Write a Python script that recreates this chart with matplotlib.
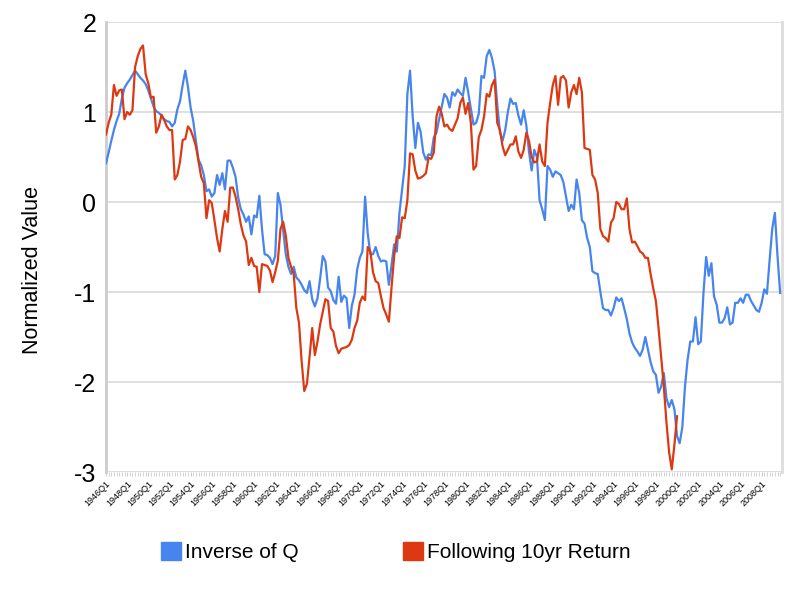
import matplotlib
matplotlib.use("Agg")
import matplotlib.pyplot as plt
from matplotlib.patches import Patch
import numpy as np

plt.rcParams['font.family'] = ['Liberation Sans', 'DejaVu Sans']
plt.rcParams['axes.unicode_minus'] = False

# quarterly categories 1946Q1 .. 2009Q4
quarters = [f"{y}Q{q}" for y in range(1946, 2010) for q in range(1, 5)]

inverse_q = [
    0.43, 0.55, 0.68, 0.80, 0.90, 0.98, 1.15, 1.27, 1.32, 1.36,
    1.41, 1.46, 1.42, 1.38, 1.35, 1.31, 1.24, 1.15, 1.06, 1.01,
    0.99, 0.96, 0.92, 0.90, 0.89, 0.84, 0.88, 1.03, 1.12, 1.30,
    1.46, 1.28, 1.05, 0.90, 0.68, 0.47, 0.41, 0.30, 0.12, 0.14,
    0.06, 0.10, 0.30, 0.19, 0.32, 0.14, 0.46, 0.46, 0.38, 0.28,
    0.05, -0.08, -0.14, -0.22, -0.16, -0.36, -0.15, -0.17, 0.07, -0.30,
    -0.58, -0.59, -0.62, -0.69, -0.60, 0.10, -0.03, -0.30, -0.58, -0.72,
    -0.80, -0.72, -0.84, -0.87, -0.92, -0.98, -1.01, -0.88, -1.08, -1.16,
    -1.07, -0.85, -0.60, -0.66, -0.95, -0.99, -1.09, -1.13, -0.83, -1.11,
    -1.04, -1.07, -1.40, -1.15, -1.03, -0.75, -0.62, -0.55, 0.06, -0.35,
    -0.58, -0.58, -0.50, -0.60, -0.66, -0.65, -0.66, -0.92, -0.70, -0.47,
    -0.55, -0.12, 0.14, 0.40, 1.20, 1.46, 0.95, 0.60, 0.88, 0.78,
    0.55, 0.47, 0.53, 0.52, 0.72, 0.77, 0.92, 1.06, 1.20, 1.16,
    1.05, 1.22, 1.18, 1.25, 1.21, 1.18, 1.38, 1.22, 1.04, 0.86,
    0.88, 0.98, 1.40, 1.38, 1.62, 1.69, 1.60, 1.45, 1.08, 0.78,
    0.68, 0.80, 1.00, 1.15, 1.09, 1.10, 0.96, 0.86, 1.02, 0.85,
    0.56, 0.35, 0.58, 0.50, 0.02, -0.08, -0.20, 0.40, 0.36, 0.28,
    0.34, 0.32, 0.30, 0.22, 0.06, -0.10, -0.03, -0.08, 0.25, 0.10,
    -0.20, -0.24, -0.40, -0.50, -0.77, -0.79, -0.80, -1.00, -1.18, -1.20,
    -1.20, -1.26, -1.18, -1.06, -1.10, -1.07, -1.18, -1.30, -1.46, -1.56,
    -1.62, -1.66, -1.71, -1.64, -1.50, -1.64, -1.78, -1.88, -1.92, -2.12,
    -2.05, -1.90, -2.18, -2.28, -2.20, -2.30, -2.60, -2.68, -2.50, -2.05,
    -1.75, -1.55, -1.55, -1.28, -1.58, -1.55, -1.01, -0.61, -0.82, -0.68,
    -1.05, -1.14, -1.34, -1.34, -1.29, -1.17, -1.36, -1.34, -1.12, -1.12,
    -1.07, -1.12, -1.03, -1.03, -1.10, -1.15, -1.20, -1.22, -1.12, -0.97,
    -1.02, -0.65, -0.30, -0.12, -0.60, -1.01,
]

following_return = [
    0.75, 0.88, 0.97, 1.30, 1.18, 1.24, 1.25, 0.92, 1.00, 0.97,
    1.02, 1.50, 1.62, 1.70, 1.74, 1.42, 1.32, 1.16, 1.17, 0.77,
    0.84, 0.97, 0.91, 0.84, 0.80, 0.80, 0.25, 0.30, 0.45, 0.69,
    0.70, 0.84, 0.80, 0.72, 0.62, 0.45, 0.28, 0.21, -0.18, 0.02,
    -0.01, -0.20, -0.40, -0.55, -0.30, -0.10, -0.22, 0.16, 0.16, 0.06,
    -0.08, -0.25, -0.37, -0.44, -0.70, -0.62, -0.71, -0.72, -1.00, -0.69,
    -0.70, -0.71, -0.76, -0.89, -0.78, -0.65, -0.30, -0.22, -0.37, -0.62,
    -0.72, -0.80, -1.18, -1.34, -1.77, -2.10, -2.02, -1.72, -1.40, -1.70,
    -1.55, -1.36, -1.22, -1.08, -1.10, -1.40, -1.44, -1.60, -1.68, -1.63,
    -1.62, -1.61, -1.59, -1.53, -1.40, -1.32, -1.12, -1.05, -1.09, -0.50,
    -0.55, -0.78, -0.88, -0.90, -1.05, -1.18, -1.25, -1.33, -0.95, -0.60,
    -0.38, -0.40, -0.17, -0.18, 0.02, 0.54, 0.53, 0.35, 0.26, 0.27,
    0.29, 0.32, 0.49, 0.48, 0.55, 0.95, 1.06, 0.98, 0.84, 0.86,
    0.81, 0.79, 0.86, 0.93, 1.10, 1.16, 0.98, 1.10, 0.88, 0.36,
    0.40, 0.72, 0.80, 0.95, 1.20, 1.17, 1.30, 1.36, 0.88, 0.80,
    0.62, 0.52, 0.58, 0.64, 0.64, 0.73, 0.56, 0.49, 0.58, 0.77,
    0.68, 0.50, 0.44, 0.45, 0.64, 0.45, 0.40, 0.88, 1.10, 1.30,
    1.40, 1.08, 1.38, 1.40, 1.35, 1.05, 1.22, 1.30, 1.20, 1.38,
    1.22, 0.60, 0.59, 0.58, 0.30, 0.25, 0.10, -0.30, -0.38, -0.40,
    -0.44, -0.23, -0.18, 0.00, -0.02, -0.08, -0.08, 0.04, -0.30, -0.45,
    -0.44, -0.49, -0.55, -0.57, -0.62, -0.62, -0.80, -0.96, -1.10, -1.40,
    -1.72, -2.05, -2.45, -2.78, -2.97, -2.70, -2.38,
]

blue = '#4684ee'
red = '#dc3912'

fig = plt.figure(figsize=(8, 6), dpi=100)
ax = fig.add_axes([0.1325, 0.2133, 0.845, 0.75])

x_all = np.arange(len(quarters))
ax.plot(x_all[:len(inverse_q)], inverse_q, color=blue, lw=1.6, label='Inverse of Q', zorder=3)
ax.plot(x_all[:len(following_return)], following_return, color=red, lw=1.6,
        label='Following 10yr Return', zorder=4)

ax.set_ylim(-3, 2)
ax.set_xlim(0, len(quarters) - 0.3)
ax.set_yticks(range(-3, 3))
ax.tick_params(axis='y', length=0, labelsize=18, pad=7)
ax.grid(axis='y', color='#d9d9d9', lw=1.2)
ax.set_axisbelow(True)

ax.set_xticks(x_all[::8])
ax.set_xticklabels(quarters[::8], rotation=45, ha='right', rotation_mode='anchor',
                   fontsize=6.5)
ax.set_xticks(x_all, minor=True)
ax.tick_params(axis='x', which='major', length=3, color='#cccccc', pad=2)
ax.tick_params(axis='x', which='minor', length=3, color='#cccccc')

for side in ['top', 'bottom']:
    ax.spines[side].set_visible(False)
ax.spines['left'].set_color('#cccccc')
ax.spines['left'].set_linewidth(2)
ax.spines['right'].set_color('#dddddd')
ax.spines['right'].set_linewidth(2)

ax.set_ylabel('Normalized Value', fontsize=15.5)
ax.yaxis.set_label_coords(-0.093, 0.45)

handles = [Patch(color=blue, label='Inverse of Q'),
           Patch(color=red, label='Following 10yr Return')]
fig.legend(handles=handles, loc='center', bbox_to_anchor=(0.495, 0.08), ncol=2,
           frameon=False, fontsize=15, handlelength=0.95, handleheight=0.95,
           handletextpad=0.2, columnspacing=5.0)

fig.savefig('out.png', dpi=100)
